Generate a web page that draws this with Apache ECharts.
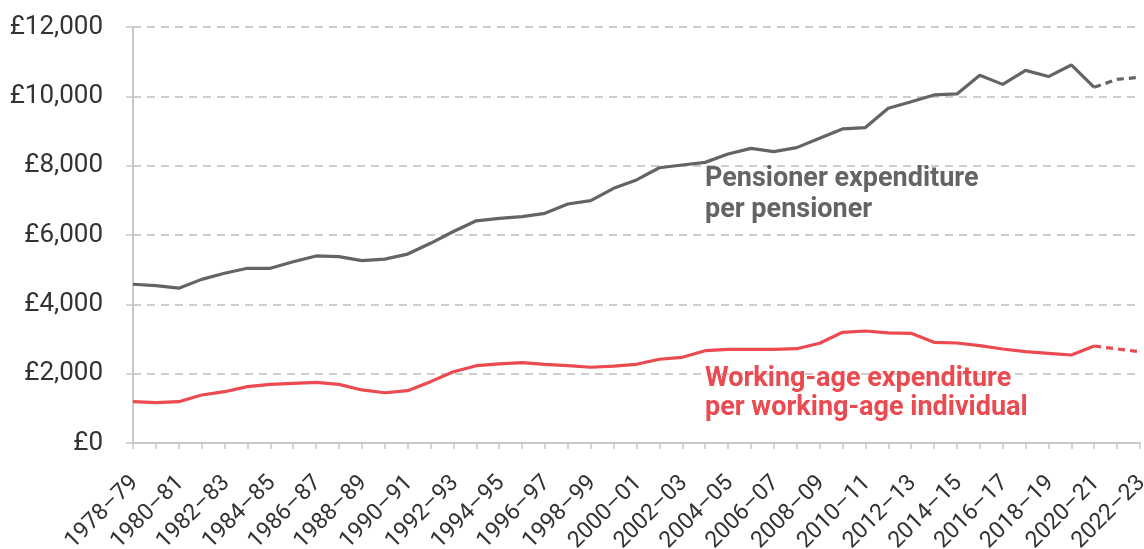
<!DOCTYPE html>
<html>
<head>
<meta charset="utf-8">
<script src="https://cdn.jsdelivr.net/npm/echarts@6/dist/echarts.min.js"></script>
<style>
html,body{margin:0;padding:0;background:#fff;}
#chart{width:1144px;height:549px;}
</style>
</head>
<body>
<div id="chart"></div>
<script>
const categories = ["1978–79","1979–80","1980–81","1981–82","1982–83","1983–84","1984–85","1985–86","1986–87","1987–88","1988–89","1989–90","1990–91","1991–92","1992–93","1993–94","1994–95","1995–96","1996–97","1997–98","1998–99","1999–00","2000–01","2001–02","2002–03","2003–04","2004–05","2005–06","2006–07","2007–08","2008–09","2009–10","2010–11","2011–12","2012–13","2013–14","2014–15","2015–16","2016–17","2017–18","2018–19","2019–20","2020–21","2021–22","2022–23"];
const pensionerValues = [4580,4540,4465,4720,4895,5040,5040,5230,5395,5375,5260,5305,5450,5760,6100,6410,6480,6530,6625,6895,6990,7345,7590,7940,8020,8095,8335,8500,8405,8520,8790,9060,9100,9655,9845,10040,10070,10605,10345,10750,10570,10905,10260,10490,10550];
const workingAgeValues = [1192,1165,1192,1385,1480,1625,1690,1720,1750,1692,1530,1450,1510,1770,2057,2230,2280,2317,2270,2230,2185,2220,2270,2415,2472,2663,2703,2703,2703,2720,2876,3193,3231,3174,3164,2905,2885,2807,2712,2634,2587,2539,2798,2712,2634];
const projectionStart = 42; // index of 2020–21, after which values are projections
const yTicks = [0,2000,4000,6000,8000,10000,12000];
const pensionerLabel = "Pensioner expenditure\nper pensioner";
const workingLabel = "Working-age expenditure\nper working-age individual";

const GREY = "#646464";
const RED = "#EA4A50";

function split(vals){
  const solid = vals.map((v,i)=> i<=projectionStart ? v : null);
  const dashed = vals.map((v,i)=> i>=projectionStart ? v : null);
  return [solid, dashed];
}
const [pSolid,pDash] = split(pensionerValues);
const [wSolid,wDash] = split(workingAgeValues);

const chart = echarts.init(document.getElementById('chart'));
const FONT = 'Roboto, "Liberation Sans", sans-serif';
function lineSeries(data,color,dashed){
  return {type:'line',data:data,showSymbol:false,symbol:'none',connectNulls:false,
    lineStyle:{color:color,width:3.2,type:dashed?[7,5]:'solid',cap:'butt'},
    emphasis:{disabled:true},animation:false,z:3};
}
chart.setOption({
  animation:false,
  backgroundColor:'#fff',
  grid:{left:133,right:4,top:27,bottom:106,containLabel:false,outerBoundsMode:'none'},
  xAxis:{type:'category',data:categories,boundaryGap:false,
    axisLine:{show:true,lineStyle:{color:'#c8c8c8',width:2}},
    axisTick:{show:true,interval:0,length:6,lineStyle:{color:'#c8c8c8',width:1.5}},
    axisLabel:{interval:1,rotate:45,margin:22,align:'right',verticalAlign:'top',padding:[0,9,0,0],color:'#333',fontSize:23,fontFamily:FONT,hideOverlap:false},
    splitLine:{show:false}},
  yAxis:{type:'value',min:yTicks[0],max:yTicks[yTicks.length-1],interval:2000,
    axisLine:{show:true,lineStyle:{color:'#c8c8c8',width:2}},
    axisTick:{show:true,length:7,lineStyle:{color:'#c8c8c8',width:1.5}},
    axisLabel:{margin:30,color:'#333',fontSize:26,fontFamily:FONT,
      formatter:v=>'£'+v.toLocaleString('en-GB')},
    splitLine:{show:true,lineStyle:{color:'#bdbdbd',width:1.5,type:[8,6]}}},
  series:[
    lineSeries(pSolid,GREY,false),
    lineSeries(pDash,GREY,true),
    lineSeries(wSolid,RED,false),
    lineSeries(wDash,RED,true)
  ],
  graphic:[
    {type:'text',left:705,top:164,z:10,style:{text:pensionerLabel,fill:GREY,font:'bold 27px '+FONT,lineHeight:31}},
    {type:'text',left:705,top:365,z:10,style:{text:workingLabel,fill:RED,font:'bold 27px '+FONT,lineHeight:29}}
  ]
});
</script>
</body>
</html>
